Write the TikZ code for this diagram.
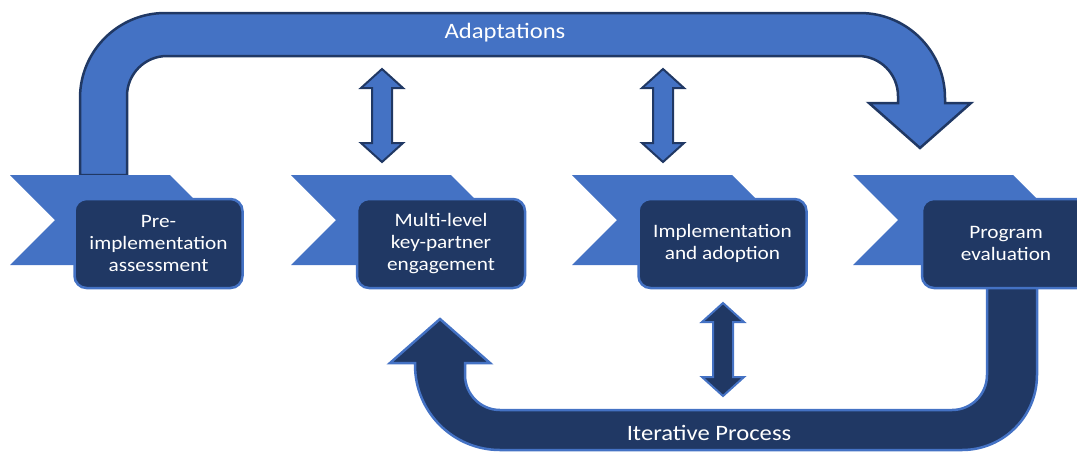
\documentclass[tikz,border=0pt]{standalone}
\usepackage{fontspec}
\setmainfont[FakeStretch=1.12]{Carlito}
\definecolor{lb}{HTML}{4472C4}
\definecolor{db}{HTML}{203864}
\tikzset{
  stagebox/.style={rounded corners=12pt, fill=db, draw=lb, line width=2.5pt, text=white,
    align=center, font=\fontsize{19}{22}\selectfont, inner sep=0pt,
    minimum width=168pt, minimum height=89pt},
  chev/.style={fill=lb},
  uparrowshape/.style={fill=lb, draw=db, line width=2.5pt, line join=miter},
  loopshape/.style={fill=db, draw=lb, line width=2.5pt, line join=miter},
  arrowlabel/.style={text=white, font=\fontsize{22}{24}\selectfont, inner sep=0pt},
  dbl/.pic={\path[pic actions] (0,0) -- (21,19) -- (10,19) -- (10,74) -- (21,74) -- (0,93)
      -- (-21,74) -- (-10,74) -- (-10,19) -- (-21,19) -- cycle;}
}
\begin{document}
\begin{tikzpicture}[x=1pt,y=-1pt]
\useasboundingbox (0,0) rectangle (1077,451);
\clip (0,0) rectangle (1077,451);
% Adaptations arrow
\draw[uparrowshape] (80,175) -- (80,98) .. controls (80,51.1) and (118.1,13) .. (165,13)
  -- (860,13) .. controls (906.9,13) and (945,51.1) .. (945,98) -- (945,103) -- (971,103)
  -- (920,148) -- (869,103) -- (898,103) -- (898,96)
  .. controls (898,73.9) and (880.1,56) .. (858,56) -- (167,56)
  .. controls (144.9,56) and (127,73.9) .. (127,96) -- (127,175) -- cycle;
\node[arrowlabel] (adapt) at (505,33) {Adaptations};
% Iterative process arrow
\draw[loopshape] (1037,270) -- (1037,375) .. controls (1037,416.4) and (1003.4,450) .. (962,450)
  -- (500,450) .. controls (453.1,450) and (415,411.9) .. (415,365) -- (415,363) -- (390,363)
  -- (440,319) -- (490,363) -- (465,363) -- (465,375)
  .. controls (465,394.3) and (480.7,410) .. (500,410) -- (952,410)
  .. controls (971.3,410) and (987,394.3) .. (987,375) -- (987,270) -- cycle;
\node[arrowlabel] (iter) at (709,433) {Iterative Process};
% chevrons
\foreach \L in {10,291,572,853}{
  \fill[chev] (\L,175) -- (\L+160,175) -- (\L+205,220) -- (\L+160,265) -- (\L,265) -- (\L+45,220) -- cycle;
}
% boxes
\node[stagebox] (pre) at (158.5,243.5) {Pre-\\implementation\\assessment};
\node[stagebox] (multi) at (441,243.5) {Multi-level\\key-partner\\engagement};
\node[stagebox] (impl) at (722.5,243.5) {Implementation\\and adoption};
\node[stagebox] (eval) at (1006,243.5) {Program\\evaluation};
% double arrows
\pic[fill=lb, draw=db, line width=2pt] at (382,69) {dbl};
\pic[fill=lb, draw=db, line width=2pt] at (663,69) {dbl};
\pic[fill=db, draw=lb, line width=2pt] at (723,303) {dbl};
\end{tikzpicture}
\end{document}
